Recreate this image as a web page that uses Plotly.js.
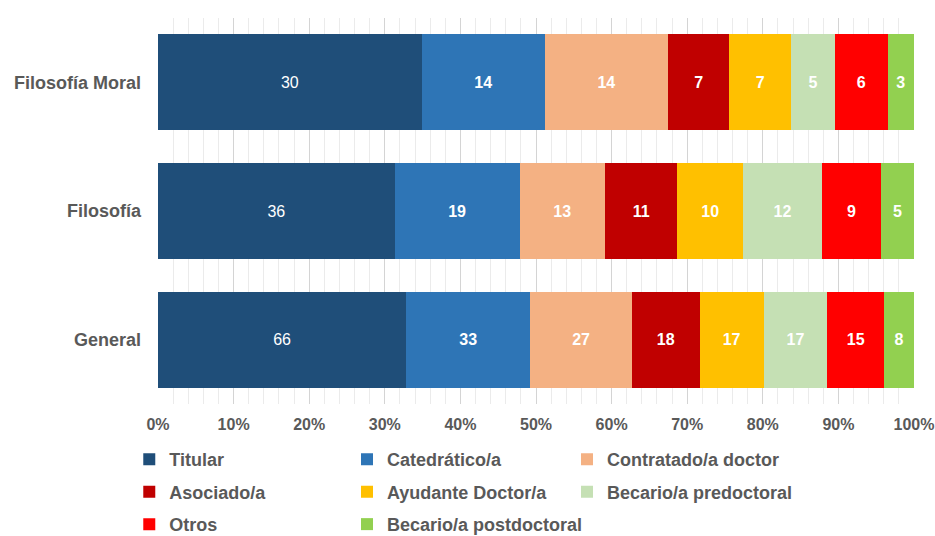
<!DOCTYPE html>
<html>
<head>
<meta charset="utf-8">
<script src="https://cdn.plot.ly/plotly-3.0.1.min.js"></script>
<style>html,body{margin:0;padding:0;background:#fff;}#chart{width:935px;height:536px;}</style>
</head>
<body>
<div id="chart"></div>
<script>
// Categories (bottom to top)
var categories = ["General", "Filosofía", "Filosofía Moral"];
// Series names
var seriesNames = ["Titular", "Catedrático/a", "Contratado/a doctor", "Asociado/a",
                   "Ayudante Doctor/a", "Becario/a predoctoral", "Otros", "Becario/a postdoctoral"];
// Counts per series, in category order [General, Filosofía, Filosofía Moral]
var titular        = [66, 36, 30];
var catedratico    = [33, 19, 14];
var contratado     = [27, 13, 14];
var asociado       = [18, 11, 7];
var ayudante       = [17, 10, 7];
var becarioPre     = [17, 12, 5];
var otros          = [15, 9, 6];
var becarioPost    = [8, 5, 3];
var xTickVals = [0,10,20,30,40,50,60,70,80,90,100];
var xTickText = ["0%","10%","20%","30%","40%","50%","60%","70%","80%","90%","100%"];

var seriesValues = [titular, catedratico, contratado, asociado, ayudante, becarioPre, otros, becarioPost];
var colors = ["#1F4E79", "#2E75B6", "#F4B183", "#C00000", "#FFC000", "#C5E0B4", "#FF0000", "#92D050"];
var legendOf = ["legend", "legend2", "legend3", "legend", "legend2", "legend3", "legend", "legend2"];

var FONT = "Liberation Sans, Arial, sans-serif";
var traces = seriesValues.map(function(vals, i) {
  return {
    type: "bar",
    orientation: "h",
    name: seriesNames[i],
    y: categories,
    x: vals,
    text: vals.map(String),
    textposition: "inside",
    insidetextanchor: "middle",
    textangle: 0,
    constraintext: "none",
    textfont: {family: FONT, size: 16, color: "#ffffff", weight: i === 0 ? "normal" : "bold"},
    marker: {color: colors[i], line: {width: 0}},
    legend: legendOf[i],
    legendgroup: "g" + i,
    hoverinfo: "none"
  };
});

var legendFont = {family: FONT, size: 18, color: "#595959", weight: "bold"};
function mkLegend(x) {
  return {x: x, xanchor: "left", xref: "paper", y: 0.177, yanchor: "top", yref: "container",
          orientation: "v", traceorder: "grouped", tracegroupgap: 6, font: legendFont,
          bgcolor: "rgba(0,0,0,0)", borderwidth: 0};
}

var layout = {
  width: 935, height: 536,
  margin: {l: 158, r: 21, t: 17.5, b: 131.5, autoexpand: false},
  paper_bgcolor: "#ffffff", plot_bgcolor: "#ffffff",
  barmode: "stack",
  barnorm: "percent",
  bargap: 0.256,
  showlegend: true,
  legend: mkLegend(-0.038),
  legend2: mkLegend(0.250),
  legend3: mkLegend(0.541),
  xaxis: {
    range: [0, 100], tickvals: xTickVals, ticktext: xTickText,
    showgrid: true, gridcolor: "#d4d4d4", gridwidth: 1,
    minor: {dtick: 2, showgrid: true, gridcolor: "#ebebeb", gridwidth: 1},
    zeroline: false, showline: false, ticks: "",
    ticklabelstandoff: 9,
    tickfont: {family: FONT, size: 16, color: "#595959", weight: "bold"},
    fixedrange: true
  },
  yaxis: {
    range: [-0.5, 2.5], showgrid: false, zeroline: false, showline: false, ticks: "",
    ticklabelstandoff: 16,
    tickfont: {family: FONT, size: 18, color: "#595959", weight: "bold"},
    fixedrange: true
  }
};

Plotly.newPlot("chart", traces, layout, {displayModeBar: false, staticPlot: true});
</script>
</body>
</html>
